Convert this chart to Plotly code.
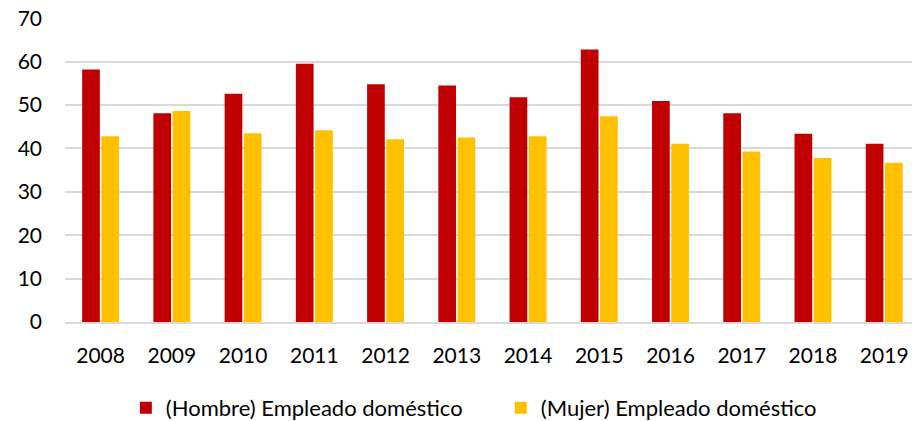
import plotly.graph_objects as go

years = ["2008", "2009", "2010", "2011", "2012", "2013", "2014", "2015", "2016", "2017", "2018", "2019"]
hombre = [58.2, 48.1, 52.6, 59.5, 54.8, 54.5, 51.8, 62.8, 50.9, 48.1, 43.4, 41.1]
mujer = [42.8, 48.6, 43.5, 44.2, 42.1, 42.5, 42.8, 47.4, 41.1, 39.3, 37.8, 36.7]
y_ticks = [0, 10, 20, 30, 40, 50, 60, 70]

FONT = "Lato, Calibri, sans-serif"

fig = go.Figure()
fig.add_trace(go.Bar(x=years, y=hombre, name="(Hombre) Empleado doméstico",
                     marker=dict(color="#C00000", line=dict(width=0))))
fig.add_trace(go.Bar(x=years, y=mujer, name="(Mujer) Empleado doméstico",
                     marker=dict(color="#FFC000", line=dict(width=0))))

fig.update_layout(
    width=912, height=421,
    margin=dict(l=65, r=0, t=18, b=99, autoexpand=False),
    paper_bgcolor="white", plot_bgcolor="white",
    barmode="group", bargap=0.46, bargroupgap=0.08,
    font=dict(family=FONT, size=21, color="#000000"),
    showlegend=True,
    legend=dict(orientation="h", xref="container", yref="container",
                x=0.138, y=0.031, xanchor="left", yanchor="middle",
                font=dict(family=FONT, size=22, color="#000000"),
                entrywidth=330, entrywidthmode="pixels", itemclick=False),
)
fig.update_xaxes(type="category", range=[-0.5, 11.39], showgrid=False,
                 showline=True, linecolor="#D9D9D9", linewidth=1.5,
                 ticks="", ticklabelstandoff=14, automargin=False,
                 tickfont=dict(family=FONT, size=21, color="#000000"))
fig.update_yaxes(range=[0, 70.05], tickvals=y_ticks, showgrid=True,
                 gridcolor="#D9D9D9", gridwidth=1.5, zeroline=False,
                 showline=False, ticks="", ticklabelstandoff=22, automargin=False,
                 tickfont=dict(family=FONT, size=21, color="#000000"))

fig.write_html(
    "out.html",
    config={"displayModeBar": False},
    post_script="document.body.style.margin='0';document.documentElement.style.overflow='hidden';",
)
